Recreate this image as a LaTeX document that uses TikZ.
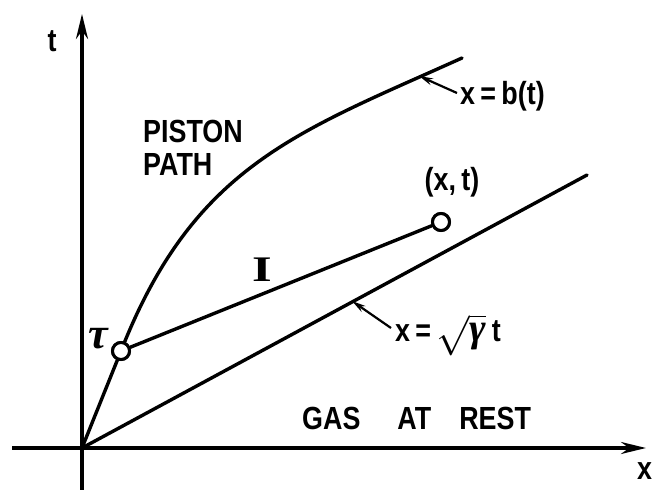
\RequirePackage{fix-cm}
\documentclass[tikz,border=0pt]{standalone}
\usepackage{fontspec}
\setmainfont{Liberation Sans}
\newfontfamily\lab[FakeStretch=0.84]{Liberation Sans Bold}
\newfontfamily\romI[FakeStretch=1.4]{Liberation Serif Bold}
\newfontfamily\grk{Liberation Serif Bold Italic}
\usetikzlibrary{arrows.meta}
\begin{document}
\begin{tikzpicture}[x=1pt,y=-1pt,
  curve/.style={line width=3.4pt,line cap=round},
  axis/.style={line width=3.4pt,-{Stealth[length=25pt,width=12pt]}},
  dot/.style={circle,draw,line width=3pt,fill=white,minimum size=17pt,inner sep=0pt},
  lbl/.style={inner sep=0pt,font=\lab\fontsize{32}{33}\selectfont},
  leader/.style={line width=2.2pt,-{Stealth[length=14pt,width=7pt]}}]
\useasboundingbox (0,0) rectangle (654,490);
% axes
\coordinate (O) at (82,448);
\coordinate (ybot) at (82,490);
\coordinate (ytop) at (82,14);
\coordinate (xl) at (12,448);
\coordinate (xr) at (646,448);
\draw[axis] (ybot) -- (ytop);
\draw[axis] (xl) -- (xr);
\node[lbl] (tl) at (52,41) {t};
\node[lbl,anchor=north west] (xlab) at (637,462) {x};
% characteristic x = sqrt(gamma) t
\coordinate (send) at (587,175);
\draw[curve] (O) -- (send);
% piston path
\coordinate (pend) at (462,58);
\node[dot] (tau) at (121,351) {};
\node[dot] (P) at (441,222) {};
\draw[curve] (O) -- (tau.center) .. controls (194,165) and (298,132) .. (pend);
\draw[curve] (tau) -- (P);
\node[dot] at (tau) {};
\node[dot] at (P) {};
% labels
\node[lbl,anchor=north west,align=left] (pp) at (143,120) {PISTON\\PATH};
\node[lbl] (pt) at (452,182) {(x,\,t)};
\node[inner sep=0pt,font=\grk\fontsize{44}{44}\selectfont] (taul) at (98,339) {τ};
\node[inner sep=0pt,font=\romI\fontsize{36}{36}\selectfont] (Il) at (262,270) {I};
\node[lbl,anchor=west] (bt) at (460,96) {x\,=\,b(t)};
\node[lbl,anchor=west] (sq) at (395,335) {x\,=\,{\fontsize{40}{40}\selectfont$\sqrt{\hbox{\grk γ}}$}\,t};
\node[lbl,anchor=west] (gas) at (302,418) {GAS\hspace{37pt}AT\hspace{28pt}REST};
% leaders
\coordinate (bS) at (457,93);
\coordinate (bT) at (419,76);
\draw[leader] (bS) -- (bT);
\coordinate (sS) at (391,328);
\coordinate (sT) at (352,301);
\draw[leader] (sS) -- (sT);
\end{tikzpicture}
\end{document}
